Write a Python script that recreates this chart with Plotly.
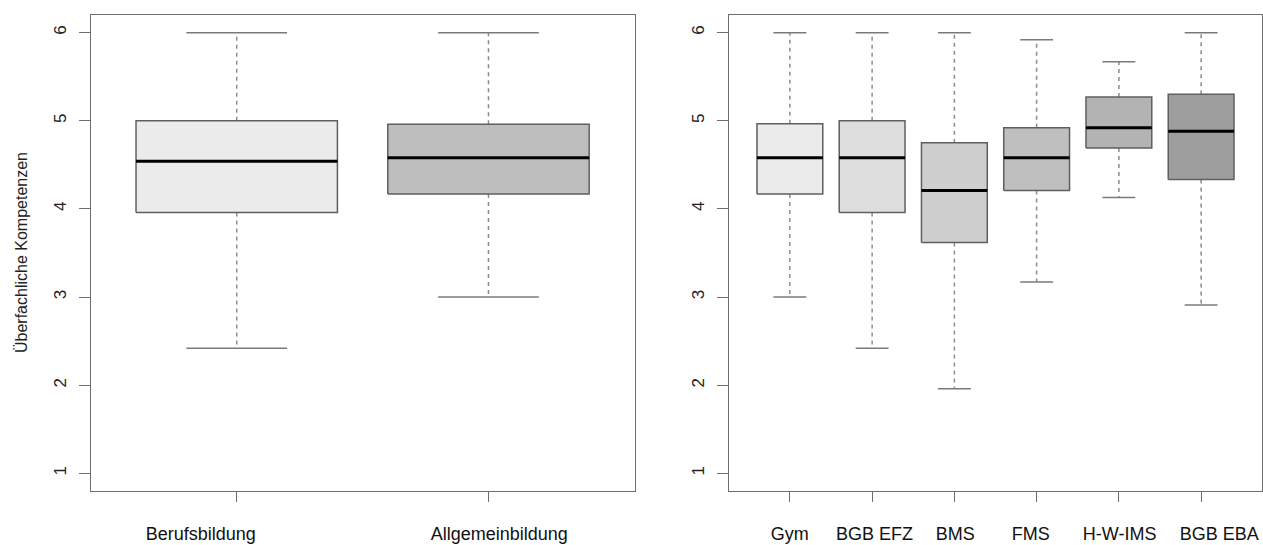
import plotly.graph_objects as go

# ---------------- data ----------------
left_groups = ["Berufsbildung", "Allgemeinbildung"]
left_lower = [2.42, 3.00]
left_q1 = [3.96, 4.17]
left_median = [4.54, 4.58]
left_q3 = [5.00, 4.96]
left_upper = [6.00, 6.00]

right_groups = ["Gym", "BGB EFZ", "BMS", "FMS", "H-W-IMS", "BGB EBA"]
right_lower = [3.00, 2.42, 1.96, 3.17, 4.13, 2.91]
right_q1 = [4.17, 3.96, 3.62, 4.21, 4.69, 4.335]
right_median = [4.58, 4.58, 4.21, 4.58, 4.92, 4.88]
right_q3 = [4.965, 5.00, 4.75, 4.92, 5.27, 5.30]
right_upper = [6.00, 6.00, 6.00, 5.92, 5.67, 6.00]

y_ticks = [1, 2, 3, 4, 5, 6]
y_title = "Überfachliche Kompetenzen"

# ---------------- styles ----------------
left_fill = ["#EBEBEB", "#BEBEBE"]
right_fill = ["#EBEBEB", "#DEDEDE", "#CFCFCF", "#BFBFBF", "#B3B3B3", "#9E9E9E"]
# horizontal nudges of the category labels (in category units), as in the original
left_label_shift = [-0.143, 0.043]
right_label_shift = [0.0, 0.03, 0.01, -0.07, 0.01, 0.22]

FONT = "Liberation Sans, Arial, Helvetica, sans-serif"
BOX_LINE = "#5f5f5f"
WHISK = "#8c8c8c"
CAP = "#7a7a7a"
FRAME = "#6e6e6e"
HALF = 0.4

fig = go.Figure()


def add_boxes(groups, lo, q1, med, q3, up, fills, xa, ya):
    for i, g in enumerate(groups):
        x = i + 1
        fig.add_trace(go.Scatter(x=[x, x, None, x, x], y=[q3[i], up[i], None, q1[i], lo[i]],
                                 mode="lines", line=dict(color=WHISK, width=1.5, dash="4px,4px"),
                                 xaxis=xa, yaxis=ya, hoverinfo="skip", showlegend=False))
        fig.add_trace(go.Scatter(x=[x - HALF / 2, x + HALF / 2, None, x - HALF / 2, x + HALF / 2],
                                 y=[up[i], up[i], None, lo[i], lo[i]],
                                 mode="lines", line=dict(color=CAP, width=1.5),
                                 xaxis=xa, yaxis=ya, hoverinfo="skip", showlegend=False))
        fig.add_trace(go.Scatter(x=[x - HALF, x + HALF, x + HALF, x - HALF, x - HALF],
                                 y=[q1[i], q1[i], q3[i], q3[i], q1[i]],
                                 mode="lines", fill="toself", fillcolor=fills[i],
                                 line=dict(color=BOX_LINE, width=1.5),
                                 xaxis=xa, yaxis=ya, name=g, showlegend=False))
        fig.add_trace(go.Scatter(x=[x - HALF, x + HALF], y=[med[i], med[i]],
                                 mode="lines", line=dict(color="#000000", width=3),
                                 xaxis=xa, yaxis=ya, hoverinfo="skip", showlegend=False))


add_boxes(left_groups, left_lower, left_q1, left_median, left_q3, left_upper, left_fill, "x", "y")
add_boxes(right_groups, right_lower, right_q1, right_median, right_q3, right_upper, right_fill, "x2", "y2")

W, H = 1263, 545
ydom = [(H - 491) / H, (H - 15) / H]
xdom1 = [90.7 / W, 634.5 / W]
xdom2 = [729 / W, 1262 / W]
xr1 = [0.42, 2.58]
xr2 = [0.26, 6.74]

common_y = dict(range=[0.8, 6.2], tickvals=y_ticks, ticks="outside", ticklen=11,
                tickcolor=FRAME, tickwidth=1.3, tickangle=-90, showgrid=False, zeroline=False,
                showline=True, mirror=True, linecolor=FRAME, linewidth=1.3,
                tickfont=dict(family=FONT, size=17, color="#222222"),
                ticklabelstandoff=6, automargin=False, fixedrange=True)
tick_x = dict(ticks="outside", ticklen=10, tickcolor=FRAME, tickwidth=1.3,
              showticklabels=False, showgrid=False, zeroline=False, showline=True, mirror=True,
              linecolor=FRAME, linewidth=1.3, automargin=False, fixedrange=True)
label_x = dict(ticks="outside", ticklen=10, tickcolor="rgba(0,0,0,0)", showline=False,
               showgrid=False, zeroline=False,
               tickfont=dict(family=FONT, size=18, color="#111111"),
               ticklabelstandoff=16, automargin=False, fixedrange=True)

fig.update_layout(
    width=W, height=H,
    margin=dict(l=0, r=0, t=0, b=0),
    paper_bgcolor="white", plot_bgcolor="white",
    font=dict(family=FONT),
    xaxis=dict(domain=xdom1, range=xr1, tickvals=list(range(1, len(left_groups) + 1)),
               anchor="y", **tick_x),
    yaxis=dict(domain=ydom, anchor="x", **common_y),
    xaxis2=dict(domain=xdom2, range=xr2, tickvals=list(range(1, len(right_groups) + 1)),
                anchor="y2", **tick_x),
    yaxis2=dict(domain=ydom, anchor="x2", **common_y),
    xaxis3=dict(domain=xdom1, range=xr1, overlaying="x", anchor="y",
                tickvals=[i + 1 + s for i, s in enumerate(left_label_shift)],
                ticktext=left_groups, **label_x),
    xaxis4=dict(domain=xdom2, range=xr2, overlaying="x2", anchor="y2",
                tickvals=[i + 1 + s for i, s in enumerate(right_label_shift)],
                ticktext=right_groups, **label_x),
    annotations=[dict(text=y_title, xref="paper", yref="paper",
                      x=22 / W, y=(ydom[0] + ydom[1]) / 2, textangle=-90,
                      showarrow=False, xanchor="center", yanchor="middle",
                      font=dict(family=FONT, size=16, color="#222222"))],
)

# invisible helper traces so the label axes are rendered
fig.add_trace(go.Scatter(x=[xr1[0]], y=[1], xaxis="x3", yaxis="y", mode="markers",
                         marker=dict(opacity=0), hoverinfo="skip", showlegend=False))
fig.add_trace(go.Scatter(x=[xr2[0]], y=[1], xaxis="x4", yaxis="y2", mode="markers",
                         marker=dict(opacity=0), hoverinfo="skip", showlegend=False))

fig.write_html(
    "out.html",
    config={"displayModeBar": False},
    post_script="document.body.style.margin='0';document.body.style.padding='0';"
                "document.body.style.overflow='hidden';"
                "document.documentElement.style.overflow='hidden';",
)
